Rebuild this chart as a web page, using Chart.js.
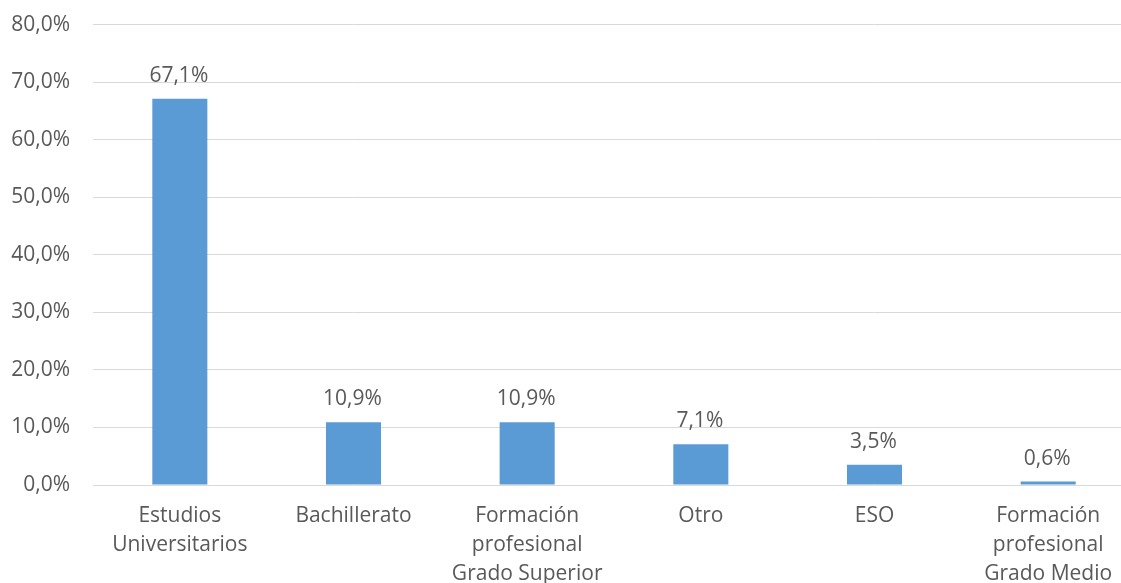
<!DOCTYPE html>
<html>
<head>
<meta charset="utf-8">
<script src="https://cdn.jsdelivr.net/npm/chart.js@4.4.1/dist/chart.umd.min.js"></script>
<style>
  html, body { margin: 0; padding: 0; overflow: hidden; background: #fff; width: 1121px; height: 583px; }
  #wrap { position: absolute; left: 0; top: -11px; width: 1135px; height: 594px; }
</style>
</head>
<body>
<div id="wrap"><canvas id="c" width="1135" height="594"></canvas></div>
<script>
const categories = [
  ['Estudios', 'Universitarios'],
  ['Bachillerato'],
  ['Formación', 'profesional', 'Grado Superior'],
  ['Otro'],
  ['ESO'],
  ['Formación', 'profesional', 'Grado Medio']
];
const values = [67.1, 10.9, 10.9, 7.1, 3.5, 0.6];
const yTicks = [0, 10, 20, 30, 40, 50, 60, 70, 80];

const fmt = v => v.toFixed(1).replace('.', ',') + '%';
const FONT = '"Open Sans", "DejaVu Sans", sans-serif';
const TXT = '#595959';

const valueLabels = {
  id: 'valueLabels',
  afterDatasetsDraw(chart) {
    const ctx = chart.ctx;
    const meta = chart.getDatasetMeta(0);
    ctx.save();
    ctx.font = '21px ' + FONT;
    ctx.fillStyle = TXT;
    ctx.textAlign = 'center';
    ctx.textBaseline = 'alphabetic';
    meta.data.forEach((bar, i) => {
      ctx.fillText(fmt(values[i]), bar.x - 1, bar.y - 17);
    });
    ctx.restore();
  }
};

new Chart(document.getElementById('c'), {
  type: 'bar',
  data: {
    labels: categories,
    datasets: [{
      data: values,
      backgroundColor: '#5b9bd5',
      borderWidth: 0,
      categoryPercentage: 1,
      barPercentage: 0.317
    }]
  },
  options: {
    responsive: false,
    animation: false,
    layout: { padding: { top: 0, right: 0, left: 0, bottom: 0 } },
    plugins: { legend: { display: false }, tooltip: { enabled: false } },
    scales: {
      y: {
        min: 0, max: 80,
        afterBuildTicks(scale) { scale.ticks = yTicks.map(v => ({ value: v })); },
        afterFit(scale) { scale.width = 93; },
        grid: { color: '#d9d9d9', lineWidth: 1, drawTicks: false },
        border: { display: false },
        ticks: {
          padding: 23,
          color: TXT,
          font: { family: FONT, size: 21 },
          callback: v => fmt(v)
        }
      },
      x: {
        afterFit(scale) { scale.height = 98; },
        grid: { display: false, drawTicks: false },
        border: { display: false },
        ticks: {
          padding: 17,
          color: TXT,
          maxRotation: 0,
          autoSkip: false,
          font: { family: FONT, size: 21, lineHeight: 1.38 }
        }
      }
    }
  },
  plugins: [valueLabels]
});
</script>
</body>
</html>
